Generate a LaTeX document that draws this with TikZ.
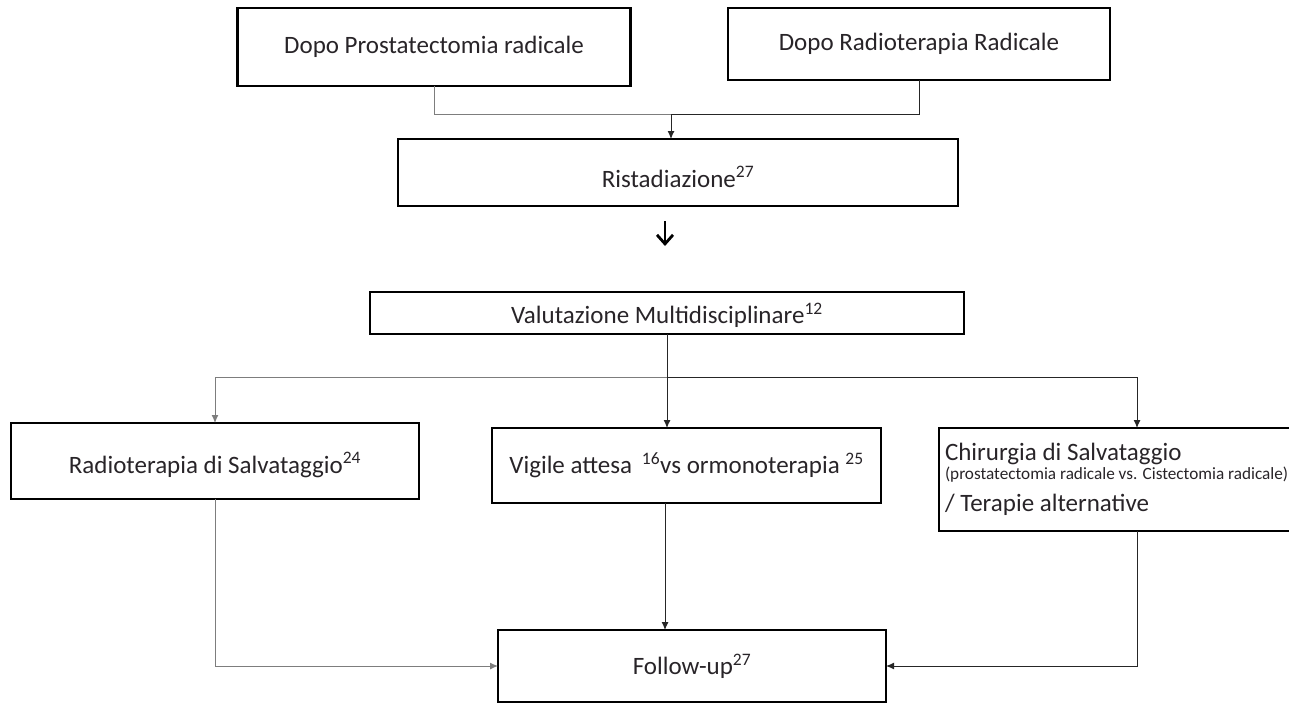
\documentclass[tikz,border=0pt]{standalone}
\usepackage{fontspec}
\setmainfont{Carlito}
\usepackage{xcolor}
\usepackage{tikz}
\usetikzlibrary{arrows.meta}
\definecolor{Ink}{RGB}{40,36,40}
\definecolor{LinkGrey}{RGB}{125,125,125}

\begin{document}
\begin{tikzpicture}[x=1pt,y=-1pt,
    blok/.style={draw=black,line width=2.6pt,inner sep=0pt,outer sep=0pt,
      font=\fontsize{25}{30}\selectfont,text=Ink},
    link/.style={line width=1pt,draw=black!85},
    arr/.style={link,-{Latex[length=8pt,width=7pt]}}]
  \useasboundingbox (0,0) rectangle (1289,704);

  \node[blok,minimum width=393pt,minimum height=78pt] (prost) at (434,47)
    {Dopo Prostatectomia radicale};
  \node[blok,minimum width=382pt,minimum height=72pt] (radio) at (919,44)
    {Dopo Radioterapia Radicale};
  \node[blok,minimum width=560pt,minimum height=67pt,
        text height=33pt,text depth=4pt] (rist) at (678,172.5)
    {Ristadiazione\textsuperscript{27}};
  \node[blok,minimum width=594pt,minimum height=42pt,
        text height=26pt,text depth=5pt] (valut) at (667,313)
    {Valutazione Multidisciplinare\textsuperscript{12}};
  \node[blok,minimum width=408pt,minimum height=76pt,
        text height=29pt,text depth=5pt] (rtsalv) at (215,461)
    {Radioterapia di Salvataggio\textsuperscript{24}};
  \node[blok,minimum width=389pt,minimum height=75pt] (vigile) at (686.5,465.5)
    {Vigile attesa \,\textsuperscript{16}vs ormonoterapia \textsuperscript{25}};
  \node[blok,minimum height=103pt,inner xsep=6pt,text width=384pt,
        align=flush left] (chir) at (1137,479.5)
    {\spaceskip=0pt\xspaceskip=0pt\relax
     Chirurgia di Salvataggio\\[-11pt]
     {\fontsize{17.2}{20}\selectfont (prostatectomia radicale vs. Cistectomia radicale)}\\[2pt]
     / Terapie alternative};
  \node[blok,minimum width=388pt,minimum height=72pt] (follow) at (692,666)
    {Follow-up\textsuperscript{27}};

  \coordinate (jn) at (671,114);
  \draw[link,draw=LinkGrey] (prost.south) |- (jn);
  \draw[link] (radio.south) |- (jn);
  \draw[arr] (jn) -- (jn |- rist.north);

  \coordinate (rs) at (665,221);
  \coordinate (re) at (665,246);
  \draw[line width=2.8pt,-{Straight Barb[length=9pt,width=16pt]}] (rs) -- (re);

  \coordinate (br) at (667,377);
  \draw[arr] (valut.south) -- (valut.south |- vigile.north);
  \draw[arr,draw=LinkGrey] (br) -| (rtsalv.north);
  \draw[arr] (br) -| (chir.north);

  \draw[arr,draw=LinkGrey] (rtsalv.south) |- (follow.west);
  \draw[arr] ([xshift=-21.5pt]vigile.south) -- ([xshift=-21.5pt]vigile.south |- follow.north);
  \draw[arr] (chir.south) |- (follow.east);
\end{tikzpicture}
\end{document}
